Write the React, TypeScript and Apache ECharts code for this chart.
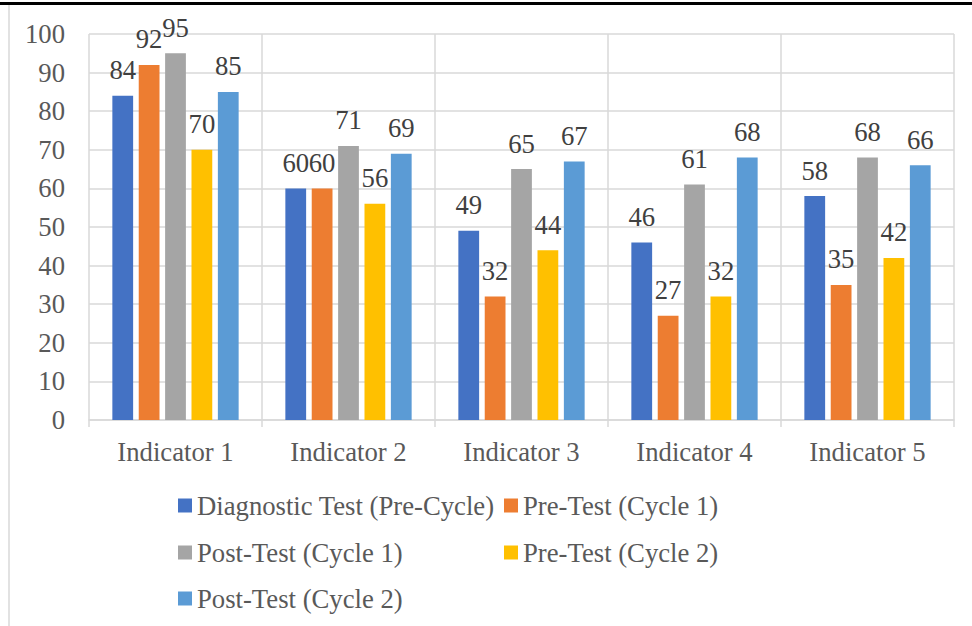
import React, { useEffect, useRef } from "react";
import * as echarts from "echarts";

const categories = ["Indicator 1", "Indicator 2", "Indicator 3", "Indicator 4", "Indicator 5"];
const seriesNames = [
  "Diagnostic Test (Pre-Cycle)",
  "Pre-Test (Cycle 1)",
  "Post-Test (Cycle 1)",
  "Pre-Test (Cycle 2)",
  "Post-Test (Cycle 2)",
];
const diagnostic = [84, 60, 49, 46, 58];
const preCycle1 = [92, 60, 32, 27, 35];
const postCycle1 = [95, 71, 65, 61, 68];
const preCycle2 = [70, 56, 44, 32, 42];
const postCycle2 = [85, 69, 67, 68, 66];
const seriesValues = [diagnostic, preCycle1, postCycle1, preCycle2, postCycle2];
const colors = ["#4472C4", "#ED7D31", "#A5A5A5", "#FFC000", "#5B9BD5"];

const FONT = "Liberation Serif";
const FS = 26.7;

export default function App() {
  const ref = useRef<HTMLDivElement>(null);
  useEffect(() => {
    document.body.style.margin = "0";
    const chart = echarts.init(ref.current!, null, { renderer: "svg" });
    const legendPos = [
      { left: 178, center: 505 },
      { left: 504, center: 505 },
      { left: 178, center: 552 },
      { left: 504, center: 552 },
      { left: 178, center: 598 },
    ];
    chart.setOption({
      animation: false,
      backgroundColor: "#ffffff",
      textStyle: { fontFamily: FONT },
      grid: { left: 89, right: 18, top: 34, bottom: 206, containLabel: false },
      xAxis: {
        type: "category",
        data: categories,
        boundaryGap: true,
        axisLine: { show: true, lineStyle: { color: "#d9d9d9", width: 1.5 } },
        axisTick: { show: true, length: 7, lineStyle: { color: "#d9d9d9", width: 1.5 } },
        splitLine: { show: true, lineStyle: { color: "#d9d9d9", width: 1.5 } },
        axisLabel: { color: "#595959", fontSize: FS, fontFamily: FONT, margin: 18 },
      },
      yAxis: {
        type: "value",
        min: 0,
        max: 100,
        interval: 10,
        axisLine: { show: false },
        axisTick: { show: false },
        splitLine: { show: true, lineStyle: { color: "#d9d9d9", width: 1.5 } },
        axisLabel: { color: "#595959", fontSize: FS, fontFamily: FONT, margin: 24 },
      },
      legend: seriesNames.map((name, i) => ({
        data: [name],
        left: legendPos[i].left,
        top: legendPos[i].center - 13,
        padding: 0,
        itemWidth: 14,
        itemHeight: 14,
        itemGap: 0,
        icon: "rect",
        selectedMode: false,
        textStyle: { color: "#595959", fontSize: FS, fontFamily: FONT, lineHeight: 26 },
      })),
      series: seriesValues.map((vals, i) => ({
        name: seriesNames[i],
        type: "bar",
        data: vals,
        barGap: "27%",
        barCategoryGap: "27%",
        itemStyle: { color: colors[i] },
        label: {
          show: true,
          position: "top",
          distance: 12,
          color: "#404040",
          fontSize: FS,
          fontFamily: FONT,
        },
      })),
      graphic: [
        { type: "rect", shape: { x: 0, y: 2, width: 972, height: 3 }, style: { fill: "#000000" } },
        { type: "line", shape: { x1: 9, y1: 5, x2: 9, y2: 626 }, style: { stroke: "#d9d9d9", lineWidth: 1.5 } },
      ],
    });
    return () => chart.dispose();
  }, []);
  return <div ref={ref} style={{ width: 972, height: 626 }} />;
}
